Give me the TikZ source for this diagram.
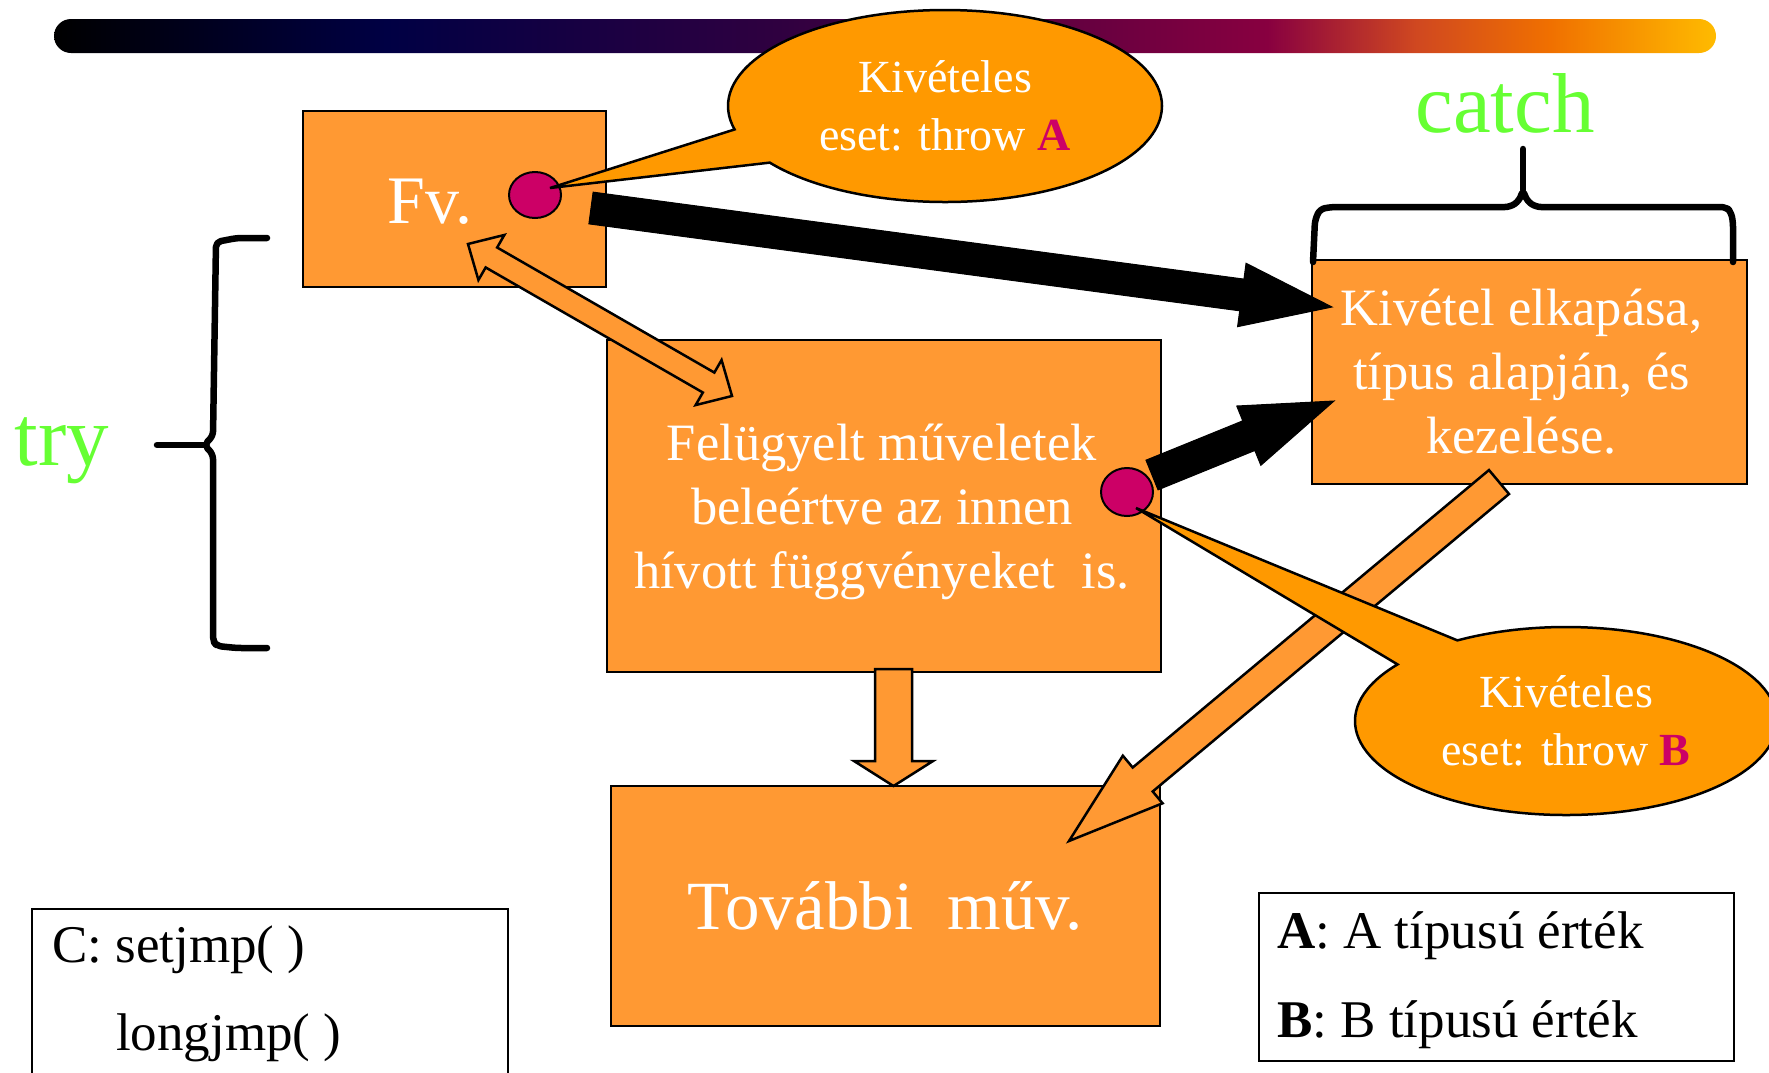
\documentclass[tikz,border=0pt]{standalone}
\usepackage{fontspec}
\setmainfont{Liberation Serif}
\usepackage{tikz}
\usetikzlibrary{calc, shapes.geometric, shapes.callouts}

\definecolor{boxorange}{HTML}{FF9933}
\definecolor{callorange}{HTML}{FF9900}
\definecolor{dotred}{HTML}{CC0066}
\definecolor{trygreen}{HTML}{66FF33}
\definecolor{barnavy}{HTML}{000044}
\definecolor{barpurple}{HTML}{300040}
\definecolor{barcrimson}{HTML}{880040}
\definecolor{barrust}{HTML}{D04820}
\definecolor{barorange}{HTML}{F07000}
\definecolor{baryellow}{HTML}{FFBB00}

\pgfdeclarehorizontalshading{titlebar}{100bp}{color(0bp)=(black); color(25bp)=(black); color(35bp)=(barnavy); color(47bp)=(barpurple); color(61.5bp)=(barcrimson); color(66bp)=(barrust); color(70bp)=(barorange); color(75bp)=(baryellow); color(100bp)=(baryellow)}

% #1 style, #2 tail, #3 tip, #4 half shaft, #5 half head, #6 head length
\newcommand{\blockarrow}[6]{%
  \coordinate (head) at ($(#3)!#6!(#2)$);
  \filldraw[#1] ($(#2)!#4!90:(#3)$) -- ($(head)!#4!90:(#3)$) -- ($(head)!#5!90:(#3)$) -- (#3)
    -- ($(head)!#5!-90:(#3)$) -- ($(head)!#4!-90:(#3)$) -- ($(#2)!#4!-90:(#3)$) -- cycle;}
\newcommand{\dblarrow}[6]{%
  \coordinate (heada) at ($(#2)!#6!(#3)$);
  \coordinate (headb) at ($(#3)!#6!(#2)$);
  \filldraw[#1] (#2) -- ($(heada)!#5!90:(#3)$) -- ($(heada)!#4!90:(#3)$) -- ($(headb)!#4!90:(#3)$)
    -- ($(headb)!#5!90:(#3)$) -- (#3) -- ($(headb)!#5!-90:(#3)$) -- ($(headb)!#4!-90:(#3)$)
    -- ($(heada)!#4!-90:(#3)$) -- ($(heada)!#5!-90:(#3)$) -- cycle;}

\begin{document}
\begin{tikzpicture}[
				x=1pt, y=-1pt,
				orangebox/.style={draw, line width=2pt, fill=boxorange, inner sep=0pt},
				boxtext/.style={text=white, align=center, inner sep=0pt, font=\fontsize{52.5}{64}\selectfont},
				reddot/.style={ellipse, draw, line width=2pt, fill=dotred, inner sep=0pt},
				bubble/.style={ellipse callout, draw, line width=2.5pt, fill=callorange, text=white, align=center, inner sep=0pt, callout pointer arc=22, font=\fontsize{46}{58}\selectfont},
				bigarrow/.style={fill=black, draw=black, line width=1pt},
				flowarrow/.style={fill=boxorange, draw=black, line width=2.5pt, line join=miter},
				bracestroke/.style={line width=6.5pt, line cap=round, line join=round, rounded corners=5pt},
				keyword/.style={text=trygreen, inner sep=0pt, font=\fontsize{85}{100}\selectfont},
				legendbox/.style={draw, line width=2pt, fill=white},
				legendtext/.style={inner sep=0pt, font=\fontsize{53}{64}\selectfont}]
			
			\useasboundingbox (0,0) rectangle (1769,1072);
			\clip (0,0) rectangle (1769,1072);
			
			% title bar
			\shade[shading=titlebar, rounded corners=17pt] (54,19) rectangle (1716,53);
			
			% boxes
			\node[orangebox, minimum width=303, minimum height=176] (fv) at (454.5,199) {};
			\node[boxtext, font=\fontsize{68}{80}\selectfont] (fvtext) at (430,202) {Fv.};
			\node[orangebox, minimum width=554, minimum height=332] (guarded) at (884,506) {};
			\node[boxtext] (guardedtext) at ($(guarded)+(-2,6)$) {Felügyelt műveletek\\beleértve az innen\\hívott függvényeket\ \ is.};
			\node[orangebox, minimum width=435, minimum height=224] (catcher) at (1529.5,372) {};
			\node[boxtext] (catchertext) at ($(catcher)+(-8,0)$) {Kivétel elkapása,\\típus alapján, és\\kezelése.};
			\node[orangebox, minimum width=549, minimum height=240] (next) at (885.5,906) {};
			\node[boxtext, font=\fontsize{69}{80}\selectfont] (nexttext) at (next) {További\ \ műv.};
			
			\node[reddot, minimum width=52, minimum height=46] (dotA) at (535,195) {};
			\node[reddot, minimum width=52, minimum height=48] (dotB) at (1127,492) {};
			
			% try / catch
			\node[keyword, anchor=base] (try) at (62,465) {try};
			\node[keyword, anchor=base] (catch) at (1505,132) {catch};
			\draw[bracestroke] (267,238) -- (237,238) -- (216,242) -- (213,436) -- (204,445) -- (213,454) -- (213,641) -- (217,646) -- (237,648) -- (267,648);
			\draw[bracestroke] (157,445) -- (204,445);
			\draw[bracestroke] (1313,262) -- (1315,220) -- (1320,209) -- (1332,207) -- (1510,207) -- (1519,201) -- (1523,190) -- (1527,201) -- (1536,207) -- (1726,207) -- (1731,212) -- (1733,222) -- (1733,262);
			\draw[bracestroke] (1523,190) -- (1523,149);
			
			% arrows
			\coordinate (a1tail) at ($(fv.east)+(-16,9)$);
			\coordinate (a1tip) at ($(catcher.west)+(21,-65)$);
			\coordinate (a2tail) at ($(dotB)+(25,-17)$);
			\coordinate (a2tip) at ($(catcher.west)+(23,29)$);
			\coordinate (callend) at ($(fv.center)+(13.5,45)$);
			\coordinate (callstart) at ($(guarded.north west)+(126,57)$);
			\coordinate (downtail) at ($(guarded.south)+(9.5,-4)$);
			\coordinate (downtip) at ($(next.north)+(8,1)$);
			\coordinate (backtail) at ($(catcher.south)+(-30.5,-3)$);
			\coordinate (backtip) at ($(next.north east)+(-92,56)$);
			
			\blockarrow{bigarrow}{a1tail}{a1tip}{16pt}{32pt}{91pt}
			\blockarrow{bigarrow}{a2tail}{a2tip}{16pt}{32pt}{92pt}
			\dblarrow{flowarrow}{callend}{callstart}{11.5pt}{26pt}{27pt}
			\blockarrow{flowarrow}{downtail}{downtip}{18.5pt}{39.5pt}{25pt}
			\blockarrow{flowarrow}{backtail}{backtip}{15.6pt}{31pt}{96pt}
			
			% callouts
			\node[bubble, minimum width=434, minimum height=192, callout absolute pointer={($(dotA)+(15,-7)$)}] (throwA) at (945,106) {Kivételes\\eset: throw \textcolor{dotred}{\textbf{A}}};
			\node[bubble, minimum width=422, minimum height=188, callout absolute pointer={($(dotB)+(9,16)$)}] (throwB) at (1566,721) {Kivételes\\eset: throw \textcolor{dotred}{\textbf{B}}};
			
			% legends
			\node[legendbox, anchor=north west, minimum width=476, minimum height=200] (cbox) at (31,908) {};
			\node[legendtext, anchor=base west] (setjmp) at (52,962) {C: setjmp( )};
			\node[legendtext, anchor=base west] (longjmp) at (116,1050) {longjmp( )};
			\node[legendbox, minimum width=475, minimum height=168] (keybox) at (1496.5,977) {};
			\node[legendtext, anchor=base west] (keyA) at (1277,948) {\textbf{A}: A típusú érték};
			\node[legendtext, anchor=base west] (keyB) at (1277,1037) {\textbf{B}: B típusú érték};
		\end{tikzpicture}
\end{document}
